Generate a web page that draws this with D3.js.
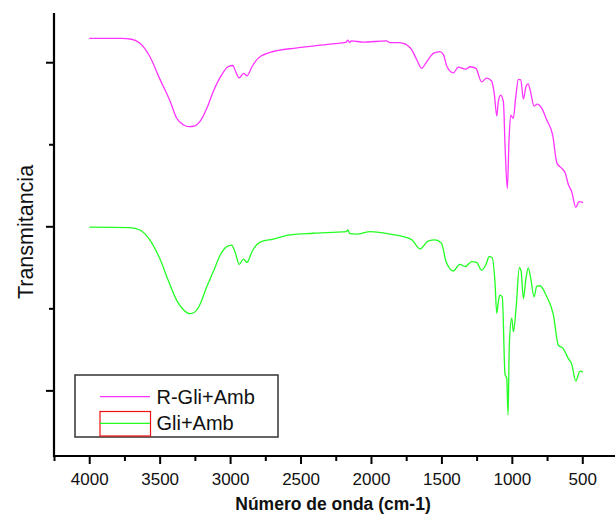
<!DOCTYPE html>
<html>
<head>
<meta charset="utf-8">
<script src="https://cdn.jsdelivr.net/npm/d3@7"></script>
<style>
  html, body { margin: 0; padding: 0; background: #fff; }
  svg { display: block; font-family: "Liberation Sans", Arial, sans-serif; }
</style>
</head>
<body>
<div id="chart"></div>
<script>
// wavenumber (cm-1), transmittance (arbitrary, offset)
var rGliAmb = [
  [4000,62.9],[3770,62.9],[3700,62.8],[3640,62.3],[3570,60.7],[3500,58.0],[3425,55.2],[3380,53.2],
  [3330,52.35],[3290,52.15],[3250,52.25],[3215,52.75],[3165,54.4],[3120,56.4],[3060,58.45],[3015,59.45],[2980,59.6],
  [2965,59.05],[2935,58.1],[2905,58.65],[2880,58.35],[2845,59.45],[2800,60.5],[2715,61.2],[2525,61.75],
  [2290,62.2],[2175,62.45],[2165,62.7],[2150,62.4],[2140,62.6],[2055,62.45],[1890,62.6],[1865,62.4],
  [1805,62.4],[1770,62.3],[1710,61.5],[1675,60.3],[1640,59.25],[1605,60.05],[1555,61.1],[1510,61.3],
  [1485,60.9],[1460,59.45],[1415,58.7],[1380,59.4],[1330,59.15],[1295,59.45],[1255,59.25],[1215,57.6],
  [1180,58.05],[1145,57.75],[1125,56.2],[1107,53.45],[1096,55.2],[1080,56.0],[1060,55.2],[1048,49.7],
  [1032,44.6],[1020,50.5],[1008,53.55],[990,53.15],[972,55.8],[954,57.9],[937,57.85],[918,55.5],
  [900,57.0],[885,57.35],[870,56.6],[842,54.65],[820,54.9],[788,54.4],[752,52.95],[710,51.1],
  [680,47.7],[645,47.05],[620,46.45],[600,45.15],[575,44.2],[546,42.3],[523,43.0],[495,42.9]
];

var gliAmb = [
  [4000,39.9],[3710,39.85],[3640,39.55],[3570,38.35],[3500,36.1],[3440,33.45],[3380,31.0],[3330,29.8],
  [3280,29.35],[3225,30.1],[3165,32.65],[3120,34.45],[3070,36.5],[3025,37.5],[2990,37.7],[2965,36.9],
  [2935,35.35],[2905,36.0],[2880,35.6],[2845,36.9],[2790,38.05],[2695,38.45],[2575,38.95],[2410,39.15],
  [2175,39.35],[2165,39.55],[2150,39.1],[2100,39.05],[2005,39.35],[1865,39.05],[1770,38.75],[1710,38.35],
  [1650,37.25],[1595,38.2],[1545,38.35],[1500,37.95],[1467,35.7],[1415,34.55],[1370,35.35],[1330,35.1],
  [1285,35.7],[1250,35.6],[1215,34.65],[1180,35.5],[1162,36.3],[1140,36.2],[1120,33.25],[1107,29.4],
  [1096,30.8],[1085,31.6],[1068,31.4],[1048,21.9],[1036,21.5],[1027,17.0],[1018,25.5],[1001,28.8],
  [989,27.15],[970,30.0],[947,34.95],[935,34.65],[918,31.2],[900,33.65],[883,34.9],[866,33.65],
  [842,31.4],[823,32.7],[800,32.75],[757,31.6],[705,29.2],[670,25.5],[635,25.1],[600,23.9],
  [575,23.2],[546,21.15],[516,22.35],[495,22.2]
];

var xMajor = [4000, 3500, 3000, 2500, 2000, 1500, 1000, 500];
var xMinor = [4250, 3750, 3250, 2750, 2250, 1750, 1250, 750, 250];
var yMajor = [20, 40, 60];
var yMinor = [30, 50];

var seriesNames = ["R-Gli+Amb", "Gli+Amb"];
var seriesColors = ["#ff33ff", "#22ff22"];

var W = 615, H = 514;

var svg = d3.select("#chart").append("svg")
  .attr("width", W)
  .attr("height", H);

var x = d3.scaleLinear().domain([4250, 250]).range([54, 617.5]);
var y = d3.scaleLinear().domain([12, 66]).range([456, 13]);

// x axis
var gx = svg.append("g").attr("transform", "translate(0,456)");
gx.call(d3.axisBottom(x).tickValues(xMajor).tickSize(8).tickSizeOuter(0).tickPadding(9).tickFormat(d3.format("d")));
gx.select(".domain").remove();
gx.selectAll("line").attr("stroke", "#000").attr("stroke-width", 2);
gx.selectAll("text").attr("font-size", 17).attr("fill", "#111")
  .attr("font-family", "'Liberation Sans', Arial, sans-serif");

var gxm = svg.append("g").attr("transform", "translate(0,456)");
gxm.call(d3.axisBottom(x).tickValues(xMinor).tickSize(5).tickSizeOuter(0).tickFormat(""));
gxm.select(".domain").remove();
gxm.selectAll("line").attr("stroke", "#000").attr("stroke-width", 2);

// y axis (no labels)
var gy = svg.append("g").attr("transform", "translate(54,0)");
gy.call(d3.axisLeft(y).tickValues(yMajor).tickSize(8).tickSizeOuter(0).tickFormat(""));
gy.select(".domain").remove();
gy.selectAll("line").attr("stroke", "#000").attr("stroke-width", 2);

var gym = svg.append("g").attr("transform", "translate(54,0)");
gym.call(d3.axisLeft(y).tickValues(yMinor).tickSize(5).tickSizeOuter(0).tickFormat(""));
gym.select(".domain").remove();
gym.selectAll("line").attr("stroke", "#000").attr("stroke-width", 2);

// axis lines
svg.append("line")
  .attr("x1", 54).attr("x2", 54)
  .attr("y1", y(66)).attr("y2", 457)
  .attr("stroke", "#000").attr("stroke-width", 2.2);
svg.append("line")
  .attr("x1", 53).attr("x2", W)
  .attr("y1", 456).attr("y2", 456)
  .attr("stroke", "#000").attr("stroke-width", 2.2);

// spectra
var line = d3.line()
  .curve(d3.curveMonotoneX)
  .x(function (d) { return x(d[0]); })
  .y(function (d) { return y(d[1]); });

[rGliAmb, gliAmb].forEach(function (s, i) {
  svg.append("path")
    .datum(s)
    .attr("fill", "none")
    .attr("stroke", seriesColors[i])
    .attr("stroke-width", 1.3)
    .attr("stroke-linejoin", "round")
    .attr("d", line);
});

// titles
svg.append("text")
  .attr("x", 333).attr("y", 510)
  .attr("text-anchor", "middle")
  .attr("font-size", 17.5)
  .attr("font-weight", "bold")
  .attr("fill", "#111")
  .text("Número de onda (cm-1)");

svg.append("text")
  .attr("transform", "translate(33,232) rotate(-90)")
  .attr("text-anchor", "middle")
  .attr("font-size", 21.5)
  .attr("fill", "#111")
  .text("Transmitancia");

// legend
var lg = svg.append("g");
lg.append("rect")
  .attr("x", 75).attr("y", 375).attr("width", 203).attr("height", 62)
  .attr("fill", "#fff").attr("stroke", "#333").attr("stroke-width", 1.5);

lg.append("rect")
  .attr("x", 100).attr("y", 411.5).attr("width", 50.5).attr("height", 24.5)
  .attr("fill", "none").attr("stroke", "#ee1111").attr("stroke-width", 1.2);

var legendY = [396.7, 423.3];
seriesNames.forEach(function (name, i) {
  lg.append("line")
    .attr("x1", 100).attr("x2", 150)
    .attr("y1", legendY[i]).attr("y2", legendY[i])
    .attr("stroke", seriesColors[i]).attr("stroke-width", 1.3);
  lg.append("text")
    .attr("x", 156.5).attr("y", legendY[i] + 7)
    .attr("font-size", 20)
    .attr("fill", "#111")
    .text(name);
});
</script>
</body>
</html>
